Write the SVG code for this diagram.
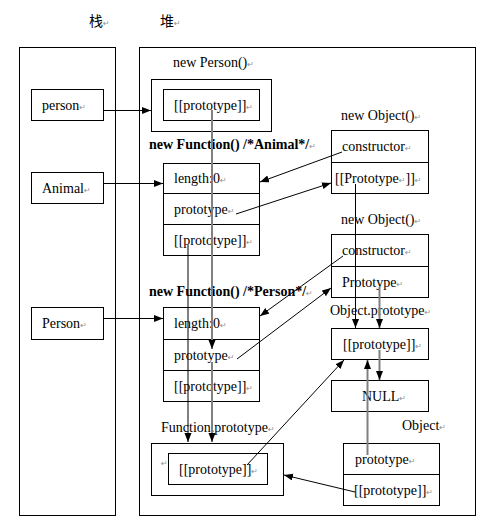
<svg xmlns="http://www.w3.org/2000/svg" width="490" height="527" viewBox="0 0 490 527">
<style>
rect{fill:#fff;stroke:#000;stroke-width:1}
line.d{stroke:#000;stroke-width:1}
line{fill:none}
text{font-family:"Liberation Serif","Times New Roman",serif;font-size:14px;fill:#000}
text.b{font-weight:bold}
text.cjk{font-family:"Noto Sans CJK SC",sans-serif;font-size:14px}
tspan.m,text.m{font-family:"DejaVu Sans",sans-serif;font-size:8px;fill:#909090;font-weight:normal}
.k{stroke:#000;stroke-width:1;fill:none}
.g{stroke:#808080;stroke-width:2;fill:none}
</style>
<defs>
<marker id="ah" markerUnits="userSpaceOnUse" markerWidth="10" markerHeight="8" refX="9" refY="3.5" orient="auto">
<path d="M0,0 L9,3.5 L0,7 z" fill="#000"/>
</marker>
</defs>
<rect x="0" y="0" width="490" height="527" style="stroke:none;fill:#fff"/>
<g id="headers">
<text class="cjk" x="89" y="26">栈<tspan class="m">↵</tspan></text>
<text class="cjk" x="160" y="26">堆<tspan class="m">↵</tspan></text>
</g>
<g id="stack">
<rect x="19.5" y="47.5" width="96" height="468"/>
</g>
<g id="heap">
<rect x="139.5" y="47.5" width="336" height="468"/>
</g>
<g id="var-person">
<rect x="31.5" y="89.5" width="72" height="31"/>
<text x="42" y="109.5">person<tspan class="m">↵</tspan></text>
</g>
<g id="var-Animal">
<rect x="31.5" y="172.5" width="72" height="31"/>
<text x="42" y="192.5">Animal<tspan class="m">↵</tspan></text>
</g>
<g id="var-Person">
<rect x="31.5" y="307.5" width="72" height="32"/>
<text x="42" y="328">Person<tspan class="m">↵</tspan></text>
</g>
<g id="new-person">
<text x="173" y="67">new Person()<tspan class="m">↵</tspan></text>
<rect x="151.5" y="79.5" width="120" height="52"/>
<rect x="163.5" y="89.5" width="96" height="31"/>
<text x="174" y="109.5">[[prototype]]<tspan class="m">↵</tspan></text>
</g>
<g id="fn-animal">
<text class="b" x="149" y="149">new Function() /*Animal*/<tspan class="m">↵</tspan></text>
<rect x="163.5" y="163.5" width="96" height="30"/>
<rect x="163.5" y="193.5" width="96" height="31"/>
<rect x="163.5" y="224.5" width="96" height="31"/>
<text x="174" y="183">length:0<tspan class="m">↵</tspan></text>
<text x="174" y="213.5">prototype<tspan class="m">↵</tspan></text>
<text x="174" y="244.5">[[prototype]]<tspan class="m">↵</tspan></text>
</g>
<g id="obj-1">
<text x="341" y="119.5">new Object()<tspan class="m">↵</tspan></text>
<rect x="331.5" y="130.5" width="97" height="32"/>
<rect x="331.5" y="162.5" width="97" height="31"/>
<text x="342" y="151">constructor<tspan class="m">↵</tspan></text>
<text x="335" y="182.5">[[Prototype<tspan class="m">↵</tspan>]]<tspan class="m">↵</tspan></text>
</g>
<g id="obj-2">
<text x="341" y="223.5">new Object()<tspan class="m">↵</tspan></text>
<rect x="331.5" y="234.5" width="97" height="32"/>
<rect x="331.5" y="266.5" width="97" height="31"/>
<text x="342" y="255">constructor<tspan class="m">↵</tspan></text>
<text x="342" y="286.5">Prototype<tspan class="m">↵</tspan></text>
</g>
<g id="fn-person">
<text class="b" x="149" y="296">new Function() /*Person*/<tspan class="m">↵</tspan></text>
<rect x="163.5" y="307.5" width="96" height="32"/>
<rect x="163.5" y="339.5" width="96" height="31"/>
<rect x="163.5" y="370.5" width="96" height="31"/>
<text x="174" y="328">length:0<tspan class="m">↵</tspan></text>
<text x="174" y="359.5">prototype<tspan class="m">↵</tspan></text>
<text x="174" y="390.5">[[prototype]]<tspan class="m">↵</tspan></text>
</g>
<g id="object-prototype">
<text x="330" y="315">Object.prototype<tspan class="m">↵</tspan></text>
<rect x="331.5" y="328.5" width="97" height="31"/>
<text x="343" y="348.5">[[prototype]]<tspan class="m">↵</tspan></text>
</g>
<g id="null">
<rect x="331.5" y="380.5" width="97" height="31"/>
<text x="362" y="401">NULL<tspan class="m">↵</tspan></text>
</g>
<g id="object">
<text x="402" y="430">Object<tspan class="m">↵</tspan></text>
<rect x="343.5" y="443.5" width="96" height="31"/>
<rect x="343.5" y="474.5" width="96" height="31"/>
<text x="355" y="463.5">prototype<tspan class="m">↵</tspan></text>
<text x="354" y="494.5">[[prototype]]<tspan class="m">↵</tspan></text>
</g>
<g id="function-prototype">
<text x="161" y="432">Function.prototype<tspan class="m">↵</tspan></text>
<rect x="151.5" y="443.5" width="132" height="52"/>
<rect x="168.5" y="453.5" width="99" height="31"/>
<text class="m" x="161" y="466">↵</text>
<text x="179" y="473.5">[[prototype]]<tspan class="m">↵</tspan></text>
</g>
<g id="connectors">
<line class="k" x1="103" y1="110.5" x2="151" y2="110.5" marker-end="url(#ah)"/>
<line class="k" x1="103" y1="183.5" x2="163" y2="183.5" marker-end="url(#ah)"/>
<line class="k" x1="103" y1="318.5" x2="163" y2="318.5" marker-end="url(#ah)"/>
<line class="g" x1="212" y1="110" x2="212" y2="349" marker-end="url(#ah)"/>
<line class="g" x1="212" y1="362" x2="212" y2="442" marker-end="url(#ah)"/>
<line class="k" x1="188" y1="245" x2="188" y2="442" marker-end="url(#ah)"/>
<line class="k" x1="342" y1="152" x2="260" y2="182" marker-end="url(#ah)"/>
<line class="k" x1="236" y1="214" x2="331" y2="183" marker-end="url(#ah)"/>
<line class="k" x1="355.5" y1="184" x2="355.5" y2="328" marker-end="url(#ah)"/>
<line class="g" x1="379.5" y1="287" x2="379.5" y2="328" marker-end="url(#ah)"/>
<line class="k" x1="343" y1="256" x2="260" y2="316" marker-end="url(#ah)"/>
<line class="k" x1="237" y1="359" x2="331" y2="288" marker-end="url(#ah)"/>
<line class="k" x1="247" y1="465" x2="344" y2="360" marker-end="url(#ah)"/>
<line class="g" x1="379.5" y1="350" x2="379.5" y2="380" marker-end="url(#ah)"/>
<line class="g" x1="367.5" y1="455" x2="367.5" y2="360" marker-end="url(#ah)"/>
<line class="k" x1="355" y1="492" x2="284" y2="475" marker-end="url(#ah)"/>
</g>
</svg>
